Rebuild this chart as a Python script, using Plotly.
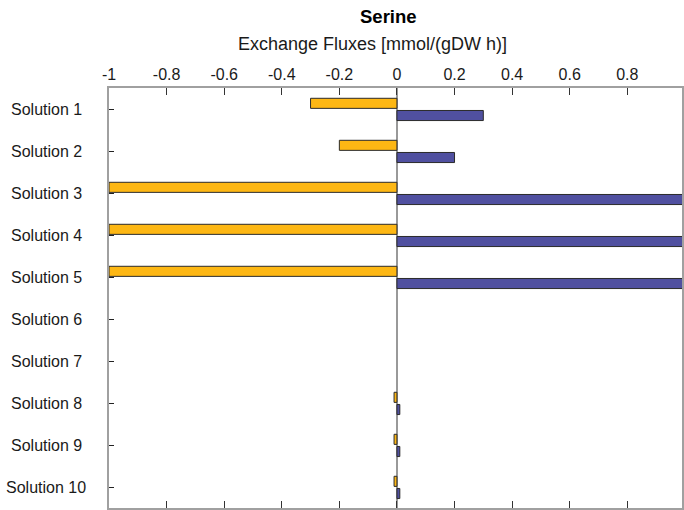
import plotly.graph_objects as go

# Exchange flux ranges for serine across alternative solutions
solutions = ["Solution 1", "Solution 2", "Solution 3", "Solution 4", "Solution 5",
             "Solution 6", "Solution 7", "Solution 8", "Solution 9", "Solution 10"]
flux_min = [-0.3, -0.2, -1.0, -1.0, -1.0, 0.0, 0.0, -0.01, -0.01, -0.01]
flux_max = [0.3, 0.2, 1.0, 1.0, 1.0, 0.0, 0.0, 0.01, 0.01, 0.01]
x_ticks = [-1, -0.8, -0.6, -0.4, -0.2, 0, 0.2, 0.4, 0.6, 0.8, 1]
x_tick_text = ["-1", "-0.8", "-0.6", "-0.4", "-0.2", "0", "0.2", "0.4", "0.6", "0.8", "1"]

FONT = "Liberation Sans, Arial, sans-serif"
TEXT = "#1a1a1a"

W, H = 684, 510
ML, MT, MB, MR = 109, 88, 0, 0
plot_w = W - ML - MR


def outline_widths(values):
    # zero-length bars get no outline so only the zero line shows
    return [0 if v == 0 else 1 for v in values]


fig = go.Figure()
fig.add_trace(go.Bar(
    y=solutions, x=flux_min, orientation="h", name="Minimum",
    offset=-0.255, width=0.24,
    marker=dict(color="#FDB714",
                line=dict(color="#2a2a2a", width=outline_widths(flux_min))),
    showlegend=False,
))
fig.add_trace(go.Bar(
    y=solutions, x=flux_max, orientation="h", name="Maximum",
    offset=0.035, width=0.24,
    marker=dict(color="#5050A0",
                line=dict(color="#2a2a2a", width=outline_widths(flux_max))),
    showlegend=False,
))

# Category labels, centred in the left margin
for s in solutions:
    fig.add_annotation(
        x=(46 - ML) / plot_w, xref="paper", xanchor="center",
        y=s, yref="y", yanchor="middle",
        text=s, showarrow=False,
        font=dict(family=FONT, size=16, color=TEXT),
    )

fig.add_annotation(
    x=(389 - ML) / plot_w, xref="paper", xanchor="center",
    y=1, yref="paper", yshift=MT - 16, yanchor="middle",
    text="<b>Serine</b>", showarrow=False,
    font=dict(family=FONT, size=18.5, color="#000000"),
)
fig.add_annotation(
    x=(373 - ML) / plot_w, xref="paper", xanchor="center",
    y=1, yref="paper", yshift=MT - 44, yanchor="middle",
    text="Exchange Fluxes [mmol/(gDW h)]", showarrow=False,
    font=dict(family=FONT, size=18, color=TEXT),
)

fig.update_layout(
    width=W, height=H,
    margin=dict(l=ML, r=MR, t=MT, b=MB, pad=0),
    paper_bgcolor="white", plot_bgcolor="white",
    barmode="overlay",
    font=dict(family=FONT, size=16, color=TEXT),
    xaxis=dict(
        range=[-1, 0.99], side="top",
        tickmode="array", tickvals=x_ticks, ticktext=x_tick_text,
        ticks="inside", ticklen=7, tickwidth=1, tickcolor="#333333",
        showgrid=False,
        zeroline=True, zerolinecolor="#999999", zerolinewidth=2,
        showline=True, linecolor="#a0a0a0", linewidth=2, mirror="allticks",
        tickfont=dict(family=FONT, size=16, color=TEXT),
    ),
    yaxis=dict(
        categoryorder="array", categoryarray=solutions,
        autorange="reversed",
        showticklabels=False,
        ticks="inside", ticklen=5, tickwidth=1, tickcolor="#222222",
        showgrid=False, zeroline=False,
        showline=True, linecolor="#a0a0a0", linewidth=2, mirror=True,
    ),
)

fig.write_html("out.html")
